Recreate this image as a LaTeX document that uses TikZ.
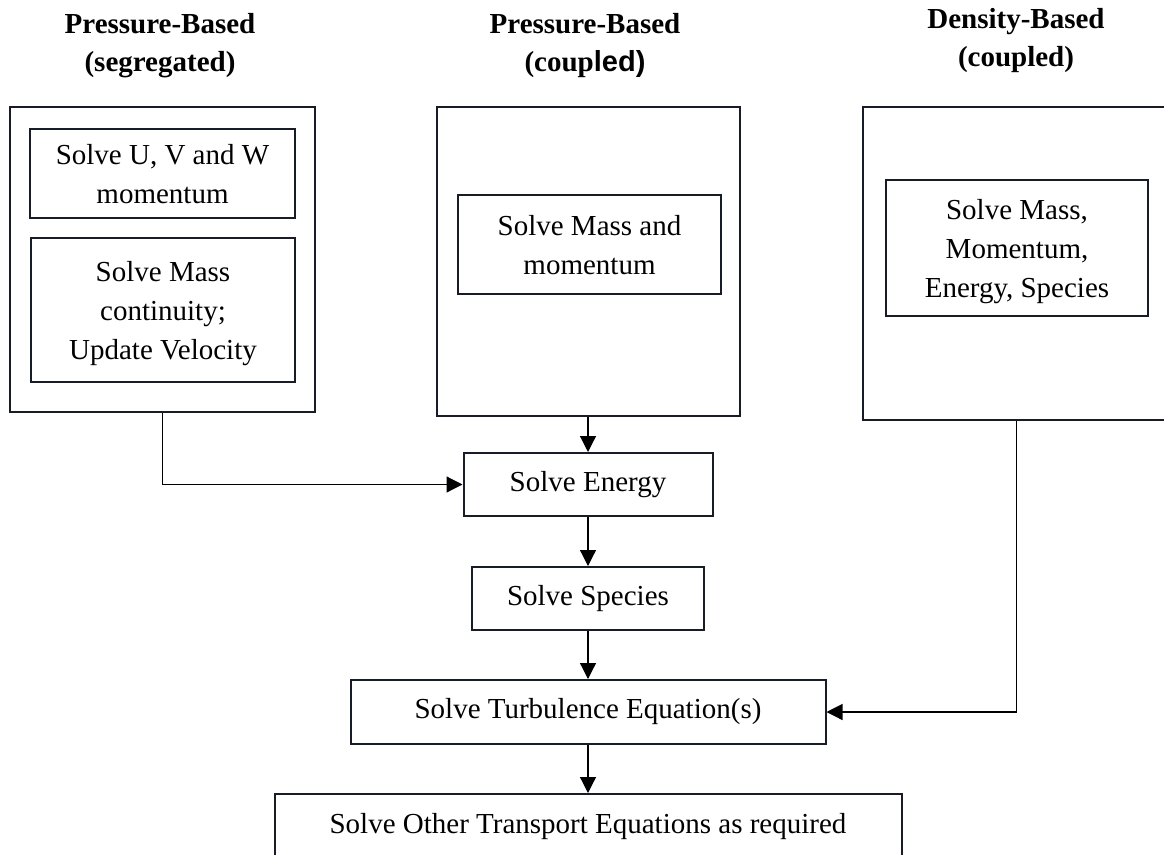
\documentclass[tikz,border=0pt]{standalone}
\usepackage{fontspec}
\setmainfont{Liberation Serif}
\setsansfont{Liberation Sans}
\usetikzlibrary{arrows.meta}
\usetikzlibrary{positioning}
\definecolor{boxline}{RGB}{24,28,38}
\tikzset{box/.style = {draw=boxline, line width=2pt, align=center, inner sep=0pt,
                       font=\fontsize{29}{39}\selectfont},
         tallbox/.style = {box, text depth=0pt},
         title/.style = {align=center, font=\fontsize{29}{38}\selectfont\bfseries},
         flow/.style = {line width=1.2pt, -{Triangle[length=16pt, width=16pt]}}}

\begin{document}
\begin{tikzpicture}[x=1pt, y=-1pt]
    \useasboundingbox (0,0) rectangle (1164,854);
    \clip (0,0) rectangle (1164,854);

    % headings
    \node[title] (segTitle) at (160,46) {Pressure-Based\\(segregated)};
    \node[title] (cplTitle) at (585,45.5) {Pressure-Based\\(coup{\sffamily led)}};
    \node[title] (denTitle) at (1016,40.5) {Density-Based\\(coupled)};

    % solver groups
    \node[box, minimum width=305pt, minimum height=305pt] (segOuter) at (162.5,259.5) {};
    \node[tallbox, minimum width=265pt, minimum height=89pt] (segMom) at (162.5,173.5) {Solve U, V and W\\momentum};
    \node[tallbox, minimum width=264pt, minimum height=144pt] (segMass) at (163,310) {Solve Mass\\continuity;\\Update Velocity};

    \node[box, minimum width=303pt, minimum height=309pt] (cplOuter) at (588,261.5) {};
    \node[tallbox, minimum width=263pt, minimum height=99pt] (cplInner) at (589.5,244.5) {Solve Mass and\\momentum};

    \node[box, minimum width=307pt, minimum height=313pt] (denOuter) at (1016.5,263.5) {};
    \node[tallbox, minimum width=262pt, minimum height=136pt] (denInner) at (1017,248) {Solve Mass,\\Momentum,\\Energy, Species};

    % common steps
    \node[box, minimum width=249pt, minimum height=63pt] (energy) at (588,484.5) {Solve Energy};
    \node[box, minimum width=232pt, minimum height=63pt, below=49pt of energy] (species) {Solve Species};
    \node[box, minimum width=475pt, minimum height=64pt, below=48pt of species] (turb) {Solve Turbulence Equation(s)};
    \node[box, minimum width=627pt, minimum height=66pt, below=48pt of turb] (other) {Solve Other Transport Equations as required};

    \draw[flow] (segOuter.south) |- (energy.west);
    \draw[flow] (cplOuter.south) -- (energy.north);
    \draw[flow] (energy) -- (species);
    \draw[flow] (species) -- (turb);
    \draw[flow] (turb) -- (other);
    \draw[flow] (denOuter.south) |- (turb.east);
\end{tikzpicture}
\end{document}
